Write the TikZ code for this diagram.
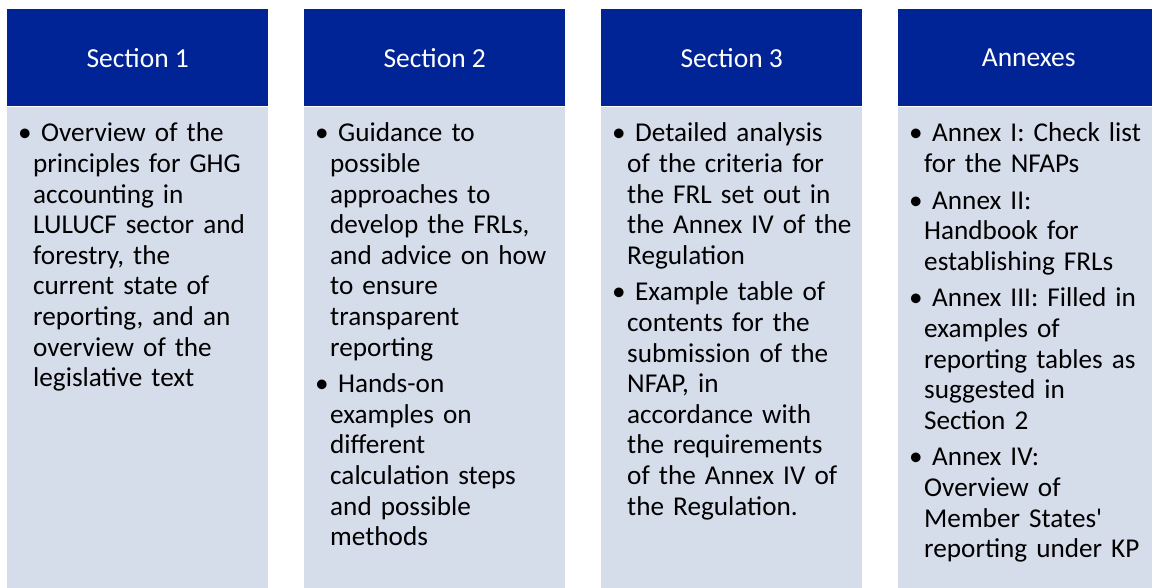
\documentclass[tikz,border=0pt]{standalone}
\usepackage{fontspec}
\setmainfont{Carlito}
\usetikzlibrary{positioning}
\definecolor{headblue}{RGB}{0,35,149}
\definecolor{bodyblue}{RGB}{213,220,234}
\newcommand{\bul}{\hspace*{-11pt}\makebox[19pt][l]{\hspace*{-4pt}\textbullet}}
\newcommand{\gap}{\\[6pt]}

\begin{document}
\begin{tikzpicture}[x=1pt,y=-1pt,
	headbox/.style={fill=headblue,text=white,minimum width=261pt,minimum height=97pt,inner sep=0pt,anchor=north west,font=\fontsize{27.5}{32}\selectfont},
	bodybox/.style={fill=bodyblue,minimum width=261pt,minimum height=482pt,inner sep=0pt,below=0pt of #1},
	bodytext/.style={text width=232pt,align=left,inner sep=0pt,anchor=north west,font=\fontsize{27.2}{30.6}\selectfont}]
	\useasboundingbox (0,0) rectangle (1152,588);
	\node[headbox] (head1) at (7,9) {Section 1};
	\node[headbox] (head2) at (304,9) {Section 2};
	\node[headbox] (head3) at (601,9) {Section 3};
	\node[headbox] (head4) at (898,9) {Annexes};
	\node[bodybox=head1] (body1) {};
	\node[bodybox=head2] (body2) {};
	\node[bodybox=head3] (body3) {};
	\node[bodybox=head4] (body4) {};
	\node[bodytext] (text1) at ([shift={(26,16.5)}]body1.north west) {\bul Overview of the\\
		principles for GHG\\
		accounting in\\
		LULUCF sector and\\
		forestry, the\\
		current state of\\
		reporting, and an\\
		overview of the\\
		legislative text};
	\node[bodytext] (text2) at ([shift={(26,16.5)}]body2.north west) {\bul Guidance to\\
		possible\\
		approaches to\\
		develop the FRLs,\\
		and advice on how\\
		to ensure\\
		transparent\\
		reporting\gap
		\bul Hands-on\\
		examples on\\
		different\\
		calculation steps\\
		and possible\\
		methods};
	\node[bodytext] (text3) at ([shift={(26,16.5)}]body3.north west) {\bul Detailed analysis\\
		of the criteria for\\
		the FRL set out in\\
		the Annex IV of the\\
		Regulation\gap
		\bul Example table of\\
		contents for the\\
		submission of the\\
		NFAP, in\\
		accordance with\\
		the requirements\\
		of the Annex IV of\\
		the Regulation.};
	\node[bodytext] (text4) at ([shift={(26,16.5)}]body4.north west) {\bul Annex I: Check list\\
		for the NFAPs\gap
		\bul Annex II:\\
		Handbook for\\
		establishing FRLs\gap
		\bul Annex III: Filled in\\
		examples of\\
		reporting tables as\\
		suggested in\\
		Section 2\gap
		\bul Annex IV:\\
		Overview of\\
		Member States\textquotesingle\\
		reporting under KP};
\end{tikzpicture}
\end{document}
